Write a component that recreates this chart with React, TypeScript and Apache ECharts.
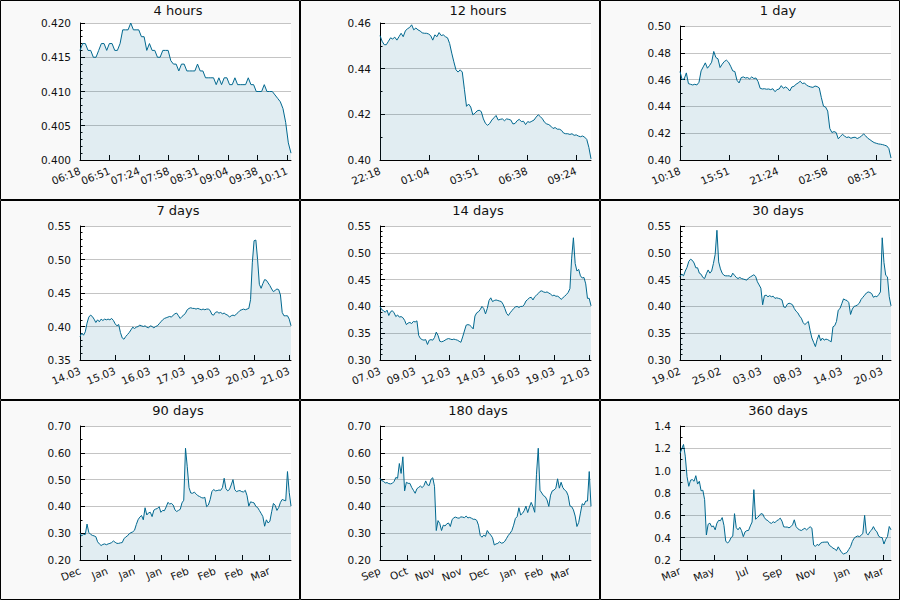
import React, { useEffect, useRef } from 'react';
import * as echarts from 'echarts';

const titles = ['4 hours', '12 hours', '1 day', '7 days', '14 days', '30 days', '90 days', '180 days', '360 days'];

const xLabels4h = ['06:18', '06:51', '07:24', '07:58', '08:31', '09:04', '09:38', '10:11'];
const xLabels12h = ['22:18', '01:04', '03:51', '06:38', '09:24'];
const xLabels1d = ['10:18', '15:51', '21:24', '02:58', '08:31'];
const xLabels7d = ['14.03', '15.03', '16.03', '17.03', '19.03', '20.03', '21.03'];
const xLabels14d = ['07.03', '09.03', '12.03', '14.03', '16.03', '19.03', '21.03'];
const xLabels30d = ['19.02', '25.02', '03.03', '08.03', '14.03', '20.03'];
const xLabels90d = ['Dec', 'Jan', 'Jan', 'Jan', 'Feb', 'Feb', 'Feb', 'Mar'];
const xLabels180d = ['Sep', 'Oct', 'Nov', 'Nov', 'Dec', 'Jan', 'Feb', 'Mar'];
const xLabels360d = ['Mar', 'May', 'Jul', 'Sep', 'Nov', 'Jan', 'Mar'];

// span of each x axis, measured in tick intervals
const xSpans = [7.14, 4.31, 4.31, 6.06, 6.06, 5.22, 7.8, 7.8, 6.24];

const values4h = [
  0.416, 0.417, 0.417, 0.416, 0.416, 0.415, 0.415, 0.416, 0.417, 0.417,
  0.416, 0.417, 0.417, 0.416, 0.416, 0.417, 0.419, 0.419, 0.419, 0.420,
  0.419, 0.419, 0.419, 0.418, 0.418, 0.416, 0.417, 0.416, 0.416, 0.415,
  0.415, 0.416, 0.416, 0.416, 0.4145, 0.414, 0.414, 0.413, 0.414, 0.414,
  0.413, 0.413, 0.413, 0.413, 0.414, 0.413, 0.413, 0.412, 0.412, 0.412,
  0.412, 0.411, 0.412, 0.411, 0.412, 0.412, 0.411, 0.411, 0.412, 0.411,
  0.411, 0.411, 0.411, 0.412, 0.411, 0.411, 0.410, 0.410, 0.410, 0.411,
  0.410, 0.410, 0.410, 0.4095, 0.409, 0.4085, 0.4075, 0.4055, 0.4025, 0.401,
];

const values12h = [
  0.4545, 0.452, 0.4505, 0.4505, 0.452, 0.4535, 0.453, 0.4538, 0.4525, 0.454,
  0.4555, 0.454, 0.4565, 0.4575, 0.458, 0.4592, 0.457, 0.4578, 0.457, 0.4565,
  0.4557, 0.4555, 0.4555, 0.4552, 0.4545, 0.4525, 0.4548, 0.454, 0.4558, 0.4545,
  0.4548, 0.454, 0.4535, 0.451, 0.4468, 0.443, 0.4395, 0.4385, 0.4395, 0.4385,
  0.431, 0.4235, 0.4245, 0.4232, 0.4198, 0.4205, 0.4215, 0.4218, 0.4212, 0.418,
  0.416, 0.4152, 0.416, 0.4175, 0.4185, 0.4195, 0.4175, 0.4178, 0.418, 0.4172,
  0.418, 0.4178, 0.4175, 0.4158, 0.416, 0.4172, 0.4178, 0.4168, 0.417, 0.4155,
  0.4168, 0.4165, 0.417, 0.4175, 0.4188, 0.4198, 0.419, 0.418, 0.4165, 0.4158,
  0.4155, 0.4148, 0.4138, 0.4142, 0.4135, 0.4135, 0.413, 0.4118, 0.4115, 0.4115,
  0.4112, 0.4115, 0.4108, 0.411, 0.4105, 0.4102, 0.4105, 0.41, 0.409, 0.4055,
  0.4005,
];

const values1d = [
  0.466, 0.460, 0.4605, 0.465, 0.457, 0.4565, 0.456, 0.4565, 0.456, 0.458,
  0.4665, 0.4695, 0.4725, 0.4685, 0.4705, 0.473, 0.481, 0.4765, 0.4755, 0.469,
  0.4715, 0.4735, 0.4745, 0.473, 0.470, 0.4665, 0.466, 0.4595, 0.4575, 0.4615,
  0.462, 0.4612, 0.4615, 0.4605, 0.462, 0.4608, 0.4612, 0.4585, 0.4535, 0.453,
  0.4532, 0.4528, 0.453, 0.4525, 0.4532, 0.451, 0.4525, 0.453, 0.4555, 0.4535,
  0.4545, 0.4535, 0.4515, 0.4545, 0.455, 0.4565, 0.4575, 0.4588, 0.457, 0.4575,
  0.4558, 0.455, 0.4545, 0.4542, 0.4552, 0.4548, 0.4538, 0.4465, 0.4402, 0.4395,
  0.4365, 0.4235, 0.4205, 0.4212, 0.4205, 0.4158, 0.4175, 0.4192, 0.4178, 0.4168,
  0.4172, 0.4162, 0.4168, 0.417, 0.416, 0.4168, 0.4178, 0.4195, 0.418, 0.4162,
  0.4152, 0.414, 0.413, 0.4125, 0.412, 0.4118, 0.4115, 0.411, 0.4105, 0.4085,
  0.4015,
];

const values7d = [
  0.385, 0.390, 0.387, 0.392, 0.405, 0.414, 0.417, 0.415, 0.411, 0.406,
  0.410, 0.407, 0.411, 0.409, 0.411, 0.410, 0.411, 0.410, 0.412, 0.409,
  0.404, 0.401, 0.403, 0.391, 0.383, 0.381, 0.385, 0.388, 0.391, 0.395,
  0.399, 0.397, 0.399, 0.400, 0.402, 0.401, 0.400, 0.401, 0.399, 0.398,
  0.401, 0.400, 0.398, 0.400, 0.401, 0.404, 0.407, 0.410, 0.412, 0.413,
  0.414, 0.415, 0.414, 0.417, 0.419, 0.420, 0.416, 0.412, 0.415, 0.417,
  0.420, 0.425, 0.427, 0.428, 0.427, 0.427, 0.426, 0.427, 0.426, 0.425,
  0.426, 0.425, 0.426, 0.426, 0.424, 0.418, 0.417, 0.421, 0.422, 0.420,
  0.421, 0.419, 0.420, 0.418, 0.417, 0.414, 0.416, 0.417, 0.416, 0.419,
  0.421, 0.424, 0.425, 0.426, 0.425, 0.426, 0.427, 0.440, 0.495, 0.528,
  0.529, 0.500, 0.463, 0.457, 0.464, 0.470, 0.469, 0.465, 0.461, 0.456,
  0.452, 0.454, 0.456, 0.455, 0.447, 0.421, 0.416, 0.416, 0.416, 0.411,
  0.401,
];

const values14d = [
  0.400, 0.394, 0.392, 0.389, 0.393, 0.383, 0.390, 0.392, 0.388, 0.381,
  0.384, 0.380, 0.381, 0.379, 0.374, 0.366, 0.369, 0.370, 0.368, 0.372,
  0.371, 0.373, 0.346, 0.340, 0.338, 0.337, 0.338, 0.329, 0.337, 0.338,
  0.337, 0.342, 0.352, 0.346, 0.335, 0.334, 0.335, 0.337, 0.339, 0.340,
  0.339, 0.338, 0.339, 0.338, 0.337, 0.335, 0.333, 0.343, 0.354, 0.365,
  0.366, 0.365, 0.362, 0.358, 0.382, 0.388, 0.390, 0.394, 0.400, 0.396,
  0.386, 0.396, 0.411, 0.416, 0.409, 0.411, 0.412, 0.411, 0.410, 0.409,
  0.404, 0.396, 0.387, 0.383, 0.388, 0.392, 0.396, 0.399, 0.400, 0.398,
  0.400, 0.400, 0.403, 0.410, 0.413, 0.416, 0.417, 0.412, 0.418, 0.421,
  0.424, 0.428, 0.429, 0.427, 0.426, 0.427, 0.425, 0.423, 0.420, 0.421,
  0.419, 0.419, 0.417, 0.413, 0.416, 0.419, 0.422, 0.426, 0.433, 0.490,
  0.528, 0.480, 0.466, 0.469, 0.457, 0.453, 0.454, 0.442, 0.415, 0.415,
  0.401,
];

const values30d = [
  0.456, 0.460, 0.457, 0.466, 0.473, 0.484, 0.488, 0.486, 0.481, 0.472,
  0.472, 0.462, 0.460, 0.454, 0.452, 0.461, 0.468, 0.462, 0.466, 0.480,
  0.497, 0.542, 0.483, 0.470, 0.462, 0.458, 0.457, 0.457, 0.457, 0.455,
  0.462, 0.458, 0.454, 0.452, 0.454, 0.452, 0.451, 0.450, 0.449, 0.453,
  0.455, 0.457, 0.459, 0.456, 0.446, 0.440, 0.434, 0.403, 0.420, 0.421,
  0.418, 0.420, 0.418, 0.419, 0.415, 0.416, 0.415, 0.414, 0.412, 0.399,
  0.398, 0.404, 0.406, 0.405, 0.403, 0.396, 0.391, 0.388, 0.382, 0.378,
  0.370, 0.366, 0.369, 0.372, 0.355, 0.341, 0.333, 0.325, 0.338, 0.347,
  0.336, 0.341, 0.337, 0.339, 0.338, 0.336, 0.334, 0.362, 0.364, 0.372,
  0.393, 0.396, 0.405, 0.414, 0.412, 0.411, 0.407, 0.385, 0.395, 0.400,
  0.401, 0.403, 0.406, 0.413, 0.417, 0.421, 0.425, 0.427, 0.426, 0.424,
  0.417, 0.419, 0.418, 0.422, 0.427, 0.528, 0.482, 0.458, 0.455, 0.418,
  0.401,
];

const values90d = [
  0.300, 0.290, 0.296, 0.295, 0.334, 0.303, 0.296, 0.292, 0.290, 0.287,
  0.268, 0.260, 0.254, 0.258, 0.260, 0.257, 0.260, 0.262, 0.265, 0.271,
  0.266, 0.262, 0.262, 0.264, 0.265, 0.279, 0.286, 0.290, 0.298, 0.302,
  0.305, 0.311, 0.332, 0.350, 0.360, 0.366, 0.350, 0.395, 0.368, 0.376,
  0.378, 0.362, 0.386, 0.390, 0.392, 0.399, 0.378, 0.385, 0.384, 0.398,
  0.415, 0.409, 0.411, 0.405, 0.387, 0.381, 0.385, 0.389, 0.413, 0.423,
  0.617, 0.548, 0.470, 0.450, 0.449, 0.453, 0.447, 0.440, 0.437, 0.433,
  0.431, 0.434, 0.399, 0.405, 0.425, 0.455, 0.463, 0.458, 0.459, 0.461,
  0.460, 0.470, 0.505, 0.466, 0.458, 0.463, 0.480, 0.500, 0.463, 0.455,
  0.458, 0.459, 0.455, 0.454, 0.460, 0.440, 0.401, 0.417, 0.415, 0.413,
  0.400, 0.396, 0.385, 0.374, 0.362, 0.326, 0.350, 0.338, 0.345, 0.380,
  0.411, 0.404, 0.385, 0.396, 0.415, 0.426, 0.423, 0.421, 0.530, 0.452,
  0.401,
];

const values180d = [
  0.505, 0.496, 0.494, 0.487, 0.489, 0.485, 0.484, 0.486, 0.493, 0.508,
  0.505, 0.560, 0.523, 0.585, 0.458, 0.490, 0.486, 0.486, 0.471, 0.460,
  0.449, 0.466, 0.471, 0.476, 0.470, 0.478, 0.495, 0.480, 0.478, 0.501,
  0.507, 0.475, 0.310, 0.347, 0.336, 0.310, 0.330, 0.327, 0.335, 0.338,
  0.325, 0.350, 0.358, 0.360, 0.357, 0.356, 0.361, 0.360, 0.358, 0.364,
  0.357, 0.359, 0.356, 0.352, 0.352, 0.348, 0.330, 0.292, 0.285, 0.293,
  0.288, 0.310, 0.300, 0.293, 0.283, 0.256, 0.260, 0.262, 0.268, 0.263,
  0.264, 0.270, 0.281, 0.292, 0.300, 0.310, 0.330, 0.355, 0.362, 0.395,
  0.368, 0.374, 0.384, 0.401, 0.377, 0.398, 0.415, 0.399, 0.378, 0.520,
  0.617, 0.460, 0.450, 0.440, 0.436, 0.424, 0.400, 0.442, 0.458, 0.461,
  0.468, 0.503, 0.468, 0.490, 0.470, 0.461, 0.456, 0.440, 0.402, 0.399,
  0.387, 0.364, 0.325, 0.340, 0.375, 0.410, 0.405, 0.420, 0.420, 0.530,
  0.400,
];

const values360d = [
  1.155, 1.195, 1.235, 1.130, 0.946, 0.860, 0.915, 0.920, 0.905, 0.955,
  0.880, 0.905, 0.820, 0.825, 0.740, 0.424, 0.520, 0.530, 0.498, 0.505,
  0.470, 0.530, 0.555, 0.552, 0.580, 0.510, 0.370, 0.352, 0.365, 0.400,
  0.413, 0.615, 0.490, 0.470, 0.493, 0.463, 0.409, 0.452, 0.463, 0.465,
  0.505, 0.540, 0.830, 0.565, 0.580, 0.595, 0.615, 0.612, 0.580, 0.560,
  0.553, 0.535, 0.528, 0.543, 0.534, 0.552, 0.560, 0.575, 0.548, 0.497,
  0.495, 0.495, 0.488, 0.498, 0.515, 0.560, 0.500, 0.480, 0.470, 0.464,
  0.475, 0.484, 0.470, 0.484, 0.498, 0.485, 0.334, 0.322, 0.340, 0.330,
  0.352, 0.358, 0.360, 0.360, 0.362, 0.330, 0.320, 0.306, 0.298, 0.284,
  0.318, 0.290, 0.266, 0.254, 0.260, 0.268, 0.295, 0.320, 0.365, 0.395,
  0.407, 0.415, 0.410, 0.420, 0.440, 0.600, 0.440, 0.425, 0.454, 0.469,
  0.499, 0.469, 0.452, 0.413, 0.403, 0.400, 0.343, 0.385, 0.410, 0.500,
  0.470,
];

const yMins = [0.4, 0.4, 0.4, 0.35, 0.3, 0.3, 0.2, 0.2, 0.2];
const yMaxs = [0.42, 0.46, 0.5, 0.55, 0.55, 0.55, 0.7, 0.7, 1.4];
const yIntervals = [0.005, 0.02, 0.02, 0.05, 0.05, 0.05, 0.1, 0.1, 0.2];
const yMinorSplits = [5, 2, 2, 5, 5, 5, 2, 2, 2];
const yDecimals = [3, 2, 2, 2, 2, 2, 2, 2, 1];

const allLabels = [xLabels4h, xLabels12h, xLabels1d, xLabels7d, xLabels14d, xLabels30d, xLabels90d, xLabels180d, xLabels360d];
const allValues = [values4h, values12h, values1d, values7d, values14d, values30d, values90d, values180d, values360d];

const gridTops = [23, 23, 26, 26, 26, 26, 26, 26, 26];

const LINE = '#00688f';
const FILL = 'rgba(0,104,143,0.17)';
const FONT = 'DejaVu Sans';

export default function App() {
  const ref = useRef<HTMLDivElement>(null);

  useEffect(() => {
    document.body.style.margin = '0';
    if (!ref.current) return;
    const chart = echarts.init(ref.current, null, { renderer: 'svg' });

    const grids: any[] = [];
    const xAxes: any[] = [];
    const yAxes: any[] = [];
    const series: any[] = [];
    const titleOpts: any[] = [];
    const graphics: any[] = [];

    for (let i = 0; i < 9; i++) {
      const px = (i % 3) * 300;
      const py = Math.floor(i / 3) * 200;
      const labels = allLabels[i];
      const vals = allValues[i];
      const span = xSpans[i];
      const ticks = labels.map((_, k) => k);

      grids.push({
        left: px + 80,
        top: py + gridTops[i],
        width: 211,
        height: 160 - gridTops[i],
        show: true,
        backgroundColor: '#ffffff',
        borderWidth: 0,
      });

      xAxes.push({
        type: 'value',
        gridIndex: i,
        min: 0,
        max: span,
        axisLine: { show: true, lineStyle: { color: '#000', width: 1 } },
        axisTick: { show: true, inside: true, length: 5, lineStyle: { color: '#000' }, customValues: ticks },
        axisLabel: {
          customValues: ticks,
          formatter: (v: number) => labels[Math.round(v)] ?? '',
          showMinLabel: true,
          showMaxLabel: true,
          hideOverlap: false,
          rotate: 22,
          margin: 10,
          fontSize: 10.5,
          fontFamily: FONT,
          color: '#111',
        },
        splitLine: { show: false },
      });

      const dec = yDecimals[i];
      yAxes.push({
        type: 'value',
        gridIndex: i,
        min: yMins[i],
        max: yMaxs[i],
        interval: yIntervals[i],
        axisLine: { show: true, lineStyle: { color: '#000', width: 1 } },
        axisTick: { show: true, inside: true, length: 5, lineStyle: { color: '#000' } },
        minorTick: { show: true, splitNumber: yMinorSplits[i], length: 2.5, lineStyle: { color: '#000' } },
        axisLabel: {
          formatter: (v: number) => v.toFixed(dec),
          showMinLabel: true,
          showMaxLabel: true,
          margin: 9,
          fontSize: 10.5,
          fontFamily: FONT,
          color: '#111',
        },
        splitLine: { show: true, lineStyle: { color: '#c4c4c4', width: 1 } },
      });

      series.push({
        type: 'line',
        xAxisIndex: i,
        yAxisIndex: i,
        data: vals.map((v, k) => [(k * span) / (vals.length - 1), v]),
        showSymbol: false,
        symbol: 'none',
        lineStyle: { color: LINE, width: 1 },
        areaStyle: { color: FILL, origin: 'start' },
        silent: true,
      });

      titleOpts.push({
        text: titles[i],
        left: px + 178,
        top: py + 4,
        textAlign: 'center',
        padding: 0,
        textStyle: { fontSize: 13, fontWeight: 'normal', fontFamily: FONT, color: '#111' },
      });

      graphics.push({
        type: 'rect',
        shape: { x: px + 0.5, y: py + 0.5, width: 299, height: 199 },
        style: { fill: 'none', stroke: '#000', lineWidth: 1 },
        z: 100,
        silent: true,
      });
    }

    chart.setOption({
      animation: false,
      backgroundColor: '#f9f9f9',
      title: titleOpts,
      grid: grids,
      xAxis: xAxes,
      yAxis: yAxes,
      series,
      graphic: graphics,
    });

    return () => chart.dispose();
  }, []);

  return <div ref={ref} style={{ width: 900, height: 600 }} />;
}
